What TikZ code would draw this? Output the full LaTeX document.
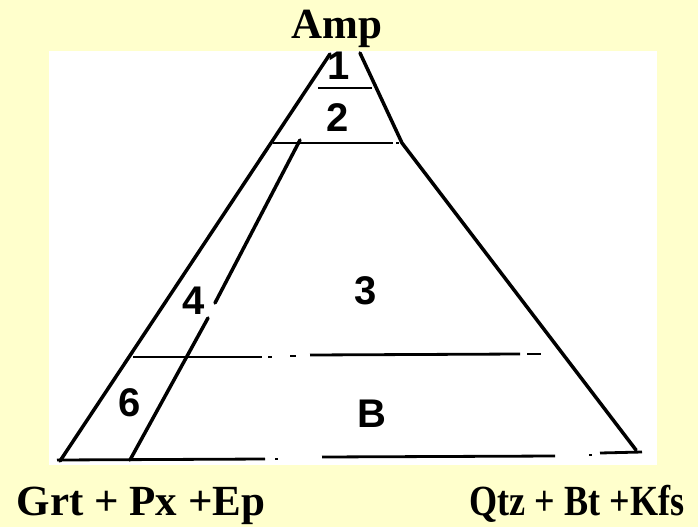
\documentclass[tikz,border=0pt]{standalone}
\usepackage{fontspec}
\setmainfont{Liberation Serif}
\newfontfamily\cifre{Liberation Sans}
\definecolor{sfondo}{HTML}{FFFFCC}

\begin{document}
\begin{tikzpicture}[
  x=1pt, y=-1pt,
  lato/.style={draw=black, line width=3.5pt, line cap=round, line join=round},
  fascia/.style={draw=black, line width=2.8pt},
  puntino/.style={draw=black, line width=2.2pt},
  campo/.style={font=\cifre\bfseries\fontsize{40}{40}\selectfont, inner sep=0pt},
  minerale/.style={font=\bfseries\fontsize{43}{43}\selectfont, inner sep=0pt, anchor=base}
]
\useasboundingbox (0,0) rectangle (698,527);

% ---- campiture -----------------------------------------------------
\fill[sfondo] (0,0) rectangle (698,527);
\fill[white]  (49,51) rectangle (657,465);

% ---- lati del triangolo --------------------------------------------
\draw[lato] (330,54) -- (60,461);                 % lato sinistro
\draw[lato] (360,53) -- (402,143) -- (636,450);   % lato destro
\draw[lato] (300,140) -- (215,303);               % lato interno, alto
\draw[lato] (208,318) -- (130,460);               % lato interno, basso

% ---- fasce orizzontali ---------------------------------------------
\draw[fascia] (318,88) -- (372,88);
\draw[fascia] (273,143) -- (393,143);
\draw[puntino] (396,143) -- (399,143);
\draw[fascia] (133,357) -- (262,357);
\draw[puntino] (268,357) -- (272,357);
\draw[puntino] (290,356) -- (296,356);
\draw[fascia] (310,355) -- (520,354);
\draw[puntino] (527,354) -- (541,354);
\draw[fascia] (57,460) -- (265,459);
\draw[puntino] (275,459) -- (278,459);
\draw[fascia] (322,457) -- (555,456);
\draw[puntino] (589,455) -- (592,455);
\draw[fascia] (600,453) -- (642,452);

% ---- campi numerati ------------------------------------------------
\node[campo] (c1) at (339,66)  {1};
\node[campo] (c2) at (338,118) {2};
\node[campo] (c3) at (366,291) {3};
\node[campo] (c4) at (194,301) {4};
\node[campo] (c6) at (130,403) {6};
\node[campo] (cB) at (372,414) {B};

% ---- associazioni mineralogiche ------------------------------------
\node[minerale] (amp) at (337,38)  {Amp};
\node[minerale] (grt) at (141,515) {Grt + Px +Ep};
\node[minerale] (qtz) at (577,515) {\scalebox{0.84}[1]{Qtz + Bt +Kfs}};

\end{tikzpicture}
\end{document}
